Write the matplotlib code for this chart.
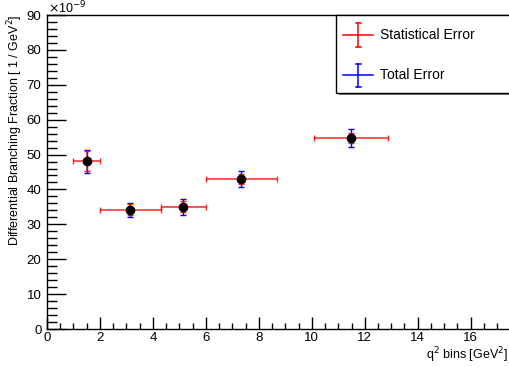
import matplotlib
matplotlib.use('Agg')
import matplotlib.pyplot as plt
from matplotlib.lines import Line2D
from matplotlib.patches import Rectangle
from matplotlib.ticker import MultipleLocator

plt.rcParams['font.family'] = ['Liberation Sans', 'DejaVu Sans']
plt.rcParams['font.size'] = 9

# q2 bins and measured values (in units of 1e-9)
q2_center = [1.5, 3.15, 5.15, 7.34, 11.48]
q2_halfwidth = [0.5, 1.15, 0.85, 1.34, 1.385]
dbf = [48.1, 34.2, 35.1, 43.0, 54.8]
stat_err = [2.8, 1.5, 1.6, 1.5, 1.4]
total_err = [3.3, 2.0, 2.3, 2.3, 2.6]

W, H = 509, 367
fig = plt.figure(figsize=(W / 100, H / 100), dpi=100)
left, right, top, bottom = 47, 512, 15, 329
ax = fig.add_axes([left / W, 1 - bottom / H, (right - left) / W, (bottom - top) / H])

ax.errorbar(q2_center, dbf, yerr=total_err, fmt='none', ecolor='blue',
            elinewidth=1.0, capsize=2, capthick=1.0, zorder=2)
ax.errorbar(q2_center, dbf, xerr=q2_halfwidth, yerr=stat_err, fmt='none',
            ecolor='red', elinewidth=1.1, capsize=2, capthick=1.0, alpha=0.85, zorder=3)
ax.plot(q2_center, dbf, 'o', color='black', markersize=6, zorder=4)

ax.set_xlim(0, 17.56)
ax.set_ylim(0, 90)
ax.xaxis.set_major_locator(MultipleLocator(2))
ax.xaxis.set_minor_locator(MultipleLocator(0.5))
ax.yaxis.set_major_locator(MultipleLocator(10))
ax.yaxis.set_minor_locator(MultipleLocator(2))
ax.tick_params(which='both', direction='in', top=False, right=False, labelsize=9.5)
ax.tick_params(axis='x', which='major', length=9, width=1, pad=2)
ax.tick_params(axis='x', which='minor', length=4.5, width=1)
ax.tick_params(axis='y', which='major', length=14, width=1, pad=4)
ax.tick_params(axis='y', which='minor', length=7, width=1)
for s in ax.spines.values():
    s.set_linewidth(1.0)

fig.text(15 / W, 1 - 14 / H, 'Differential Branching Fraction [ 1 / GeV$^2$]',
         rotation=90, ha='center', va='top', fontsize=9)
fig.text(508 / W, 1 - 355 / H, 'q$^2$ bins [GeV$^2$]', ha='right', va='center', fontsize=9)
fig.text(48 / W, 1 - 8 / H, r'$\times$10$^{-9}$', ha='left', va='center', fontsize=9)

# legend box in pixel coordinates
def px(x, y):
    return (x / W, 1 - y / H)

fig.patches.append(Rectangle(px(339, 95), (W - 336) / W, (95 - 15) / H, transform=fig.transFigure,
                             facecolor='#808080', edgecolor='none', zorder=5))
fig.patches.append(Rectangle(px(336, 93), (W - 336 + 5) / W, (93 - 15) / H, transform=fig.transFigure,
                             facecolor='white', edgecolor='black', linewidth=1.0, zorder=6))

for yc, col, label in [(35, 'red', 'Statistical Error'), (75, 'blue', 'Total Error')]:
    h = 12 if col == 'red' else 11.5
    fig.lines.append(Line2D([px(343, 0)[0], px(373, 0)[0]], [px(0, yc)[1]] * 2,
                            transform=fig.transFigure, color=col, lw=1.1, zorder=7))
    fig.lines.append(Line2D([px(358, 0)[0]] * 2, [px(0, yc - h)[1], px(0, yc + h)[1]],
                            transform=fig.transFigure, color=col, lw=1.1, zorder=7))
    for yy in (yc - h, yc + h):
        fig.lines.append(Line2D([px(355.5, 0)[0], px(360.5, 0)[0]], [px(0, yy)[1]] * 2,
                                transform=fig.transFigure, color=col, lw=1.1, zorder=7))
    fig.text(px(380, 0)[0], px(0, yc)[1], label, ha='left', va='center', fontsize=10, zorder=8)

fig.savefig('out.png', dpi=100)
